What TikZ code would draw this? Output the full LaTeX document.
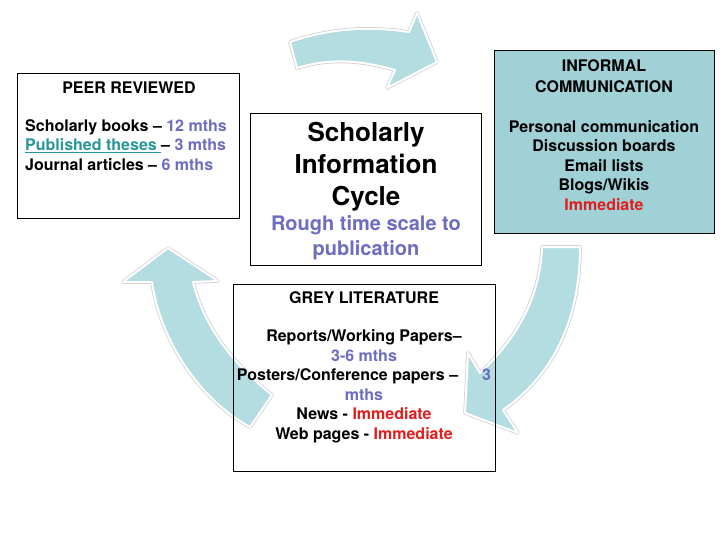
\documentclass[tikz,border=0pt]{standalone}
\usepackage{fontspec}
\setmainfont{TeX Gyre Heros}
\usepackage{xcolor}
\usepackage{tikz}

\definecolor{cycleteal}{RGB}{180,221,226}
\definecolor{infoteal}{RGB}{160,209,215}
\definecolor{mthblue}{RGB}{108,108,192}
\definecolor{nowred}{RGB}{225,30,30}
\definecolor{thesisteal}{RGB}{40,150,150}

\tikzset{
	cyclearrow/.style={fill=cycleteal, draw=white, line width=2pt, line join=round,
		preaction={draw=black!18, line width=3.6pt, line join=round}},
	box/.style={draw=black, line width=0.8pt, inner sep=0pt},
	txt/.style={font=\bfseries\fontsize{16}{19.5}\selectfont, align=center, inner sep=0pt, anchor=base}
}

\begin{document}
\begin{tikzpicture}[x=1pt, y=-1pt]

\useasboundingbox (0,0) rectangle (728,546);

\begin{scope}

\draw[cyclearrow] (290,42) .. controls (330,28) and (370,26) .. (409,32) -- (417,13) -- (437,62) -- (387,88) -- (395,70) .. controls (360,60) and (330,58) .. (297,68) -- cycle;

\draw[cyclearrow] (580,247) .. controls (580,310) and (560,370) .. (503,410) -- (518,433) -- (465,413) -- (468,353) -- (480,373) .. controls (515,340) and (540,300) .. (542,247) -- cycle;

\draw[cyclearrow] (168,248) -- (218,281) -- (193,282) .. controls (205,330) and (235,365) .. (272,395) -- (250,427) .. controls (200,400) and (160,340) .. (152,282) -- (123,282) -- cycle;

\end{scope}

\node[box, minimum width=222pt, minimum height=145pt] (peer) at (128,145.5) {};
\node[box, minimum width=231pt, minimum height=152pt] (hub) at (365.5,189) {};
\node[box, fill=infoteal, minimum width=220pt, minimum height=183pt] (informal) at (604,141.5) {};
\node[box, minimum width=262pt, minimum height=187pt] (grey) at (364,377.5) {};

\node[txt] (peerhead) at (129,93.3) {PEER REVIEWED};
\node[txt, align=left, anchor=base west] (peerlist) at (25,170) {Scholarly books -- {\color{mthblue}12 mths}\\ {\color{thesisteal}\underline{Published theses\ }}-- {\color{mthblue}3 mths}\\ Journal articles -- {\color{mthblue}6 mths}};

\node[txt, font=\bfseries\fontsize{26}{32}\selectfont] (hubtitle) at (366,205.5) {Scholarly\\ Information\\ Cycle};
\node[txt, font=\bfseries\fontsize{20}{25}\selectfont, text=mthblue] (hubsub) at (366,255.5) {Rough time scale to\\ publication};

\node[txt, font=\bfseries\fontsize{16}{21}\selectfont] (informalhead) at (604,92.5) {INFORMAL\\ COMMUNICATION};
\node[txt] (informallist) at (604,210) {Personal communication\\ Discussion boards\\ Email lists\\ Blogs/Wikis\\ {\color{nowred}Immediate}};

\node[txt] (greyhead) at (364,303.3) {GREY LITERATURE};
\node[txt] (greylist) at (364,439.3) {Reports/Working Papers--\\ {\color{mthblue}3-6 mths}\\ Posters/Conference papers --\hspace{24pt}{\color{mthblue}3}\\ {\color{mthblue}mths}\\ News - {\color{nowred}Immediate}\\ Web pages - {\color{nowred}Immediate}};

\end{tikzpicture}
\end{document}
